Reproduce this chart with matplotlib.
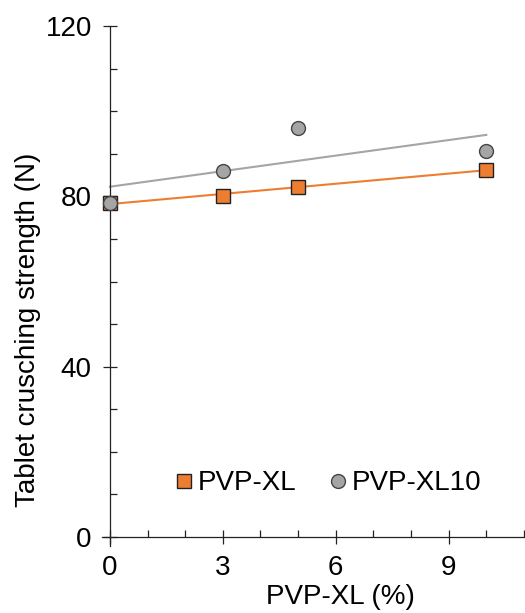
import numpy as np
import matplotlib.pyplot as plt
from matplotlib.ticker import MultipleLocator

plt.rcParams['font.family'] = ['Liberation Sans', 'DejaVu Sans']

# data
conc = [0, 3, 5, 10]                       # PVP-XL (%)
pvp_xl = [78.4, 80.2, 82.3, 86.2]          # PVP-XL
pvp_xl10 = [78.4, 86.0, 96.0, 90.6]        # PVP-XL10

orange = '#ED7D31'
grey = '#A5A5A5'

fig = plt.figure(figsize=(5.25, 6.13), dpi=100)
ax = fig.add_axes([0.195, 0.110, 0.803, 0.8475])

# linear trend lines
xf = np.array([0, 10])
k1, b1 = np.polyfit(conc, pvp_xl, 1)
k2, b2 = np.polyfit(conc, pvp_xl10, 1)
ax.plot(xf, k2*xf + b2, color=grey, lw=1.5, zorder=2)
ax.plot(xf, k1*xf + b1, color=orange, lw=1.5, zorder=2)

ax.plot(conc, pvp_xl, 's', color=orange, mec='#222222', mew=1.0, ms=10.5,
        label='PVP-XL', zorder=3)
ax.plot(conc, pvp_xl10, 'o', color=grey, mec='#444444', mew=1.0, ms=10,
        label='PVP-XL10', zorder=4)

ax.set_xlim(-0.2, 11)
ax.set_ylim(-2, 120)
ax.spines['left'].set_position(('data', 0))
ax.spines['bottom'].set_position(('data', 0))
ax.spines['left'].set_bounds(-2, 120)
ax.spines['right'].set_visible(False)
ax.spines['top'].set_visible(False)
for s in ['left', 'bottom']:
    ax.spines[s].set_linewidth(0.9)
    ax.spines[s].set_color('#222222')

ax.set_xticks([0, 3, 6, 9])
ax.set_yticks([0, 40, 80, 120])
ax.xaxis.set_minor_locator(MultipleLocator(1))
ax.yaxis.set_minor_locator(MultipleLocator(10))
ax.tick_params(which='major', direction='inout', length=10, width=0.9,
               color='#222222', labelsize=20)
ax.tick_params(axis='y', which='major', pad=8)
ax.tick_params(axis='x', which='major', pad=8)
ax.tick_params(which='minor', direction='in', length=5, width=0.9,
               color='#222222')

ax.set_xlabel('PVP-XL (%)', fontsize=20)
ax.set_ylabel('Tablet crusching strength (N)', fontsize=20)
ax.xaxis.set_label_coords(0.565, -0.074)
ax.yaxis.set_label_coords(-0.145, 0.415)

ax.legend(loc='center', bbox_to_anchor=(0.53, 0.12), ncol=2, frameon=False,
          fontsize=20, handletextpad=0.0, columnspacing=1.0, handlelength=1.0,
          borderpad=0)

fig.savefig('out.png', dpi=100)
